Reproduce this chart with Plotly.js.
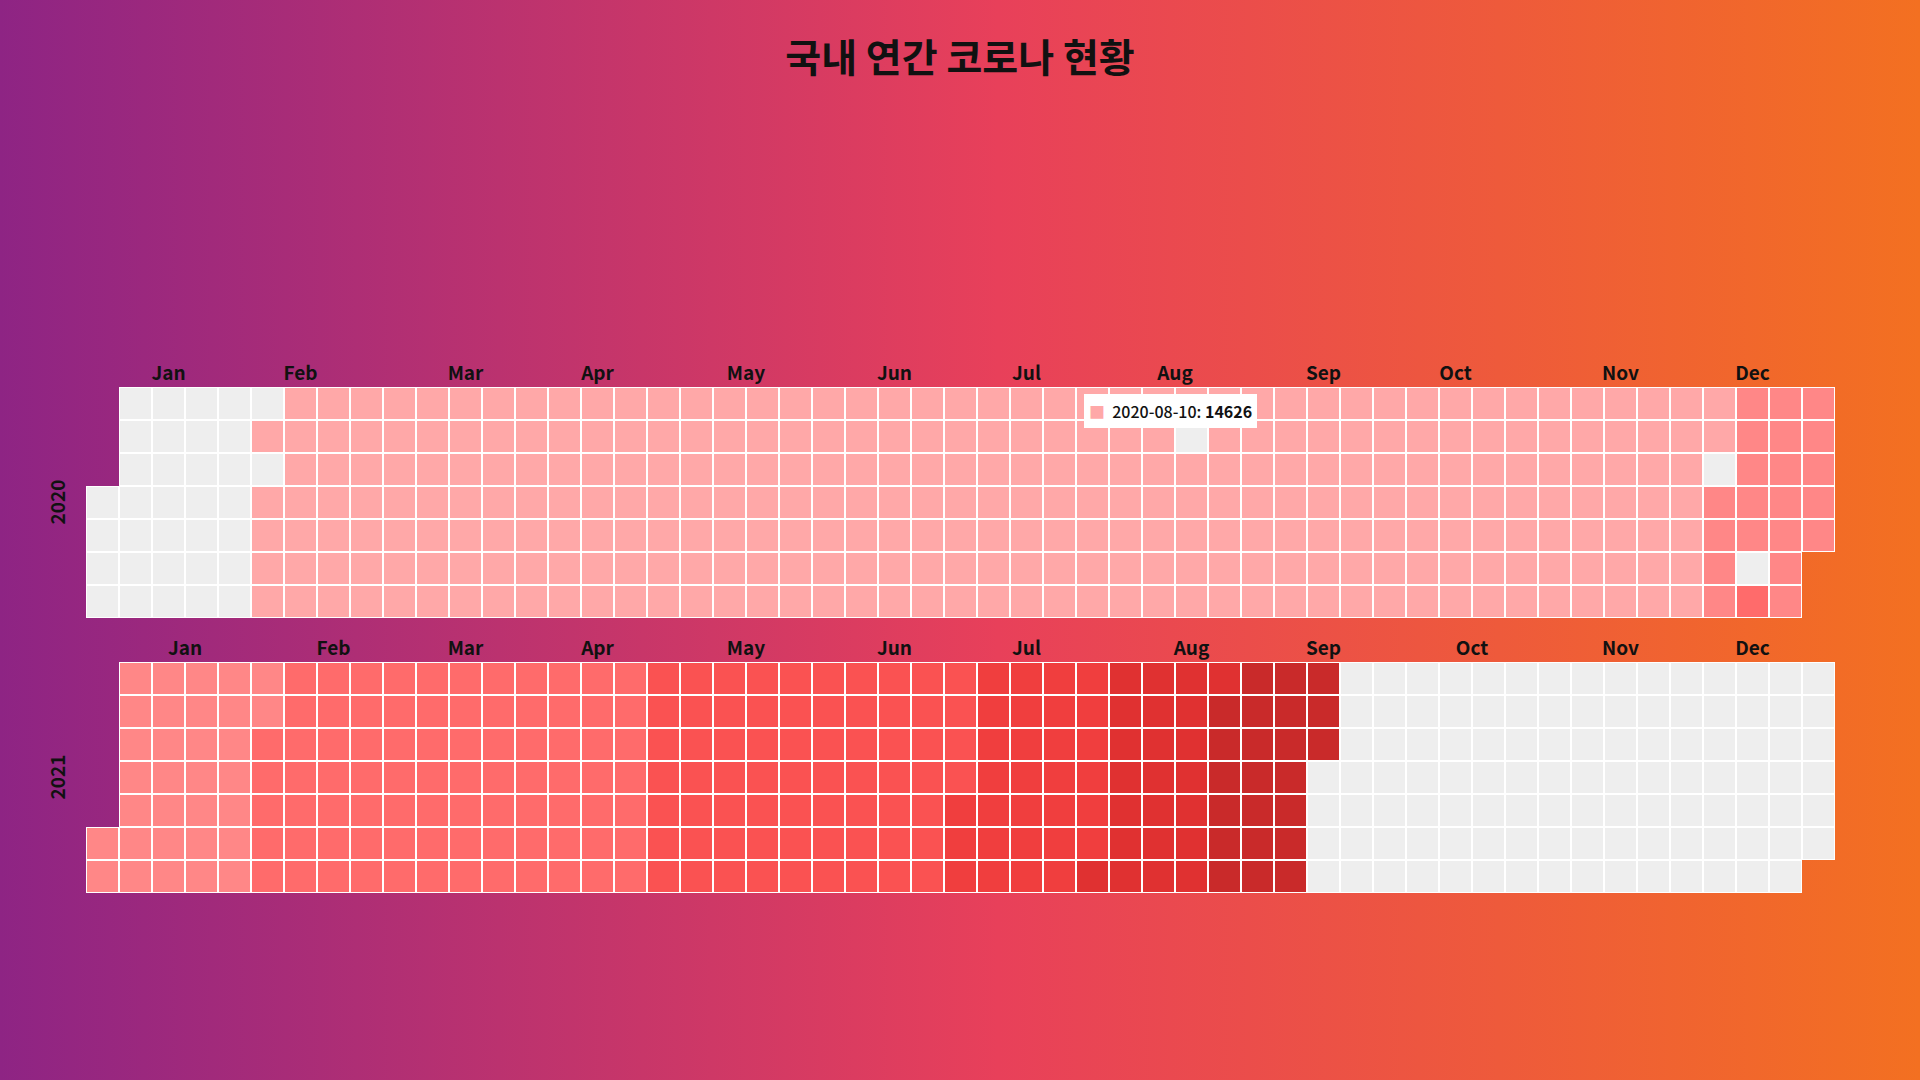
<!DOCTYPE html>
<html>
<head>
<meta charset="utf-8">
<script src="https://cdn.plot.ly/plotly-3.0.1.min.js"></script>
<style>
  html, body { margin: 0; padding: 0; }
  #chart {
    width: 1920px; height: 1080px;
    background: linear-gradient(to right, #8e2484 0%, #e8405a 52%, #f37021 100%);
  }
</style>
</head>
<body>
<div id="chart"></div>
<script>
// colour level of every day, one string per month (read off the calendar cells)
// 0 = no data (grey), 1..7 = visualMap pieces, light to dark red
var years = [2020, 2021];
var levelColors = ['#eeeeee', '#ffa8a8', '#ff8787', '#ff6b6b', '#fa5252', '#f03e3e', '#e03131', '#c92a2a'];

var days2020 = [
  '0000000000000000000000000000000',
  '00101111111111111111111111111',
  '1111111111111111111111111111111',
  '111111111111111111111111111111',
  '1111111111111111111111111111111',
  '111111111111111111111111111111',
  '1111111111111111111111111111111',
  '1111111111111111011111111111111',
  '111111111111111111111111111111',
  '1111111111111111111111111111111',
  '111111111111111111111111111111',
  '1111111022222222203222222222222'
];
var days2021 = [
  '2222222222222222222222222222222',
  '2333333333333333333333333333',
  '3333333333333333333333333333333',
  '333333333333333333333333444444',
  '4444444444444444444444444444444',
  '444444444444444444444444444444',
  '5555555555555555555555555555556',
  '6666666666666666666666777777777',
  '777777777777770000000000000000',
  '0000000000000000000000000000000',
  '000000000000000000000000000000',
  '0000000000000000000000000000000'
];

var monthNames = ['Jan', 'Feb', 'Mar', 'Apr', 'May', 'Jun', 'Jul', 'Aug', 'Sep', 'Oct', 'Nov', 'Dec'];
// week-column where each month label sits
var monthPos2020 = [2, 6, 11, 15, 19.5, 24, 28, 32.5, 37, 41, 46, 50];
var monthPos2021 = [2.5, 7, 11, 15, 19.5, 24, 28, 33, 37, 41.5, 46, 50];

// tooltip shown in the picture
var tipDate = '2020-08-10';
var tipValue = 14626;

// turn month strings into a 7 x 53 week grid (rows = Sun..Sat)
var build_grid = function (year, months) {
  var z = [], under = [];
  for (var r = 0; r < 7; r++) {
    z.push(new Array(53).fill(null));
    under.push(new Array(53).fill(null));
  }
  var first = new Date(Date.UTC(year, 0, 1)).getUTCDay();
  var k = 0;
  months.forEach(function (s, m) {
    var n = new Date(Date.UTC(year, m + 1, 0)).getUTCDate();
    if (s.length !== n) {
      throw new Error(year + '-' + (m + 1) + ': ' + s.length + ' days, expected ' + n);
    }
    for (var d = 0; d < n; d++) {
      var p = k + first;
      z[p % 7][Math.floor(p / 7)] = +s[d];
      under[p % 7][Math.floor(p / 7)] = 1;
      k++;
    }
  });
  return [z, under];
};

var weeks = [];
for (var i = 0; i < 53; i++) weeks.push(i);
var weekdays = [0, 1, 2, 3, 4, 5, 6];

var colorscale = [];
levelColors.forEach(function (c, i) {
  colorscale.push([i / levelColors.length, c]);
  colorscale.push([(i + 1) / levelColors.length, c]);
});

var data = [];
var grids = [build_grid(2020, days2020), build_grid(2021, days2021)];
grids.forEach(function (g, i) {
  var xa = i === 0 ? 'x' : 'x2';
  var ya = i === 0 ? 'y' : 'y2';
  // white underlay so the gaps between cells read as white borders
  data.push({
    type: 'heatmap', x: weeks, y: weekdays, z: g[1],
    colorscale: [[0, '#ffffff'], [1, '#ffffff']], showscale: false,
    xaxis: xa, yaxis: ya, hoverinfo: 'skip'
  });
  data.push({
    type: 'heatmap', x: weeks, y: weekdays, z: g[0],
    colorscale: colorscale, zmin: -0.5, zmax: levelColors.length - 0.5,
    showscale: false, xgap: 2, ygap: 2,
    xaxis: xa, yaxis: ya, hoverinfo: 'skip'
  });
});

var W = 1920, H = 1080;
var left = 86, right = 1835;
var tickFont = { family: '"Noto Sans CJK KR", "Noto Sans", sans-serif', size: 19, color: '#111', weight: 'bold' };

var x_axis = function (anchor, pos) {
  return {
    domain: [left / W, right / W], range: [-0.5, 52.5], anchor: anchor, side: 'top',
    showgrid: false, zeroline: false, showline: false, ticks: '',
    tickvals: pos, ticktext: monthNames, tickfont: tickFont,
    ticklabelstandoff: 2, automargin: false, fixedrange: true
  };
};
var y_axis = function (top, bottom) {
  return {
    domain: [1 - bottom / H, 1 - top / H], range: [6.5, -0.5],
    showgrid: false, zeroline: false, showline: false, showticklabels: false, ticks: '',
    automargin: false, fixedrange: true
  };
};

// level of the hovered day, for the tooltip marker colour
var tipMonth = +tipDate.slice(5, 7) - 1, tipDay = +tipDate.slice(8, 10) - 1;
var tipColor = levelColors[+days2020[tipMonth][tipDay]];

var layout = {
  width: W, height: H,
  margin: { l: 0, r: 0, t: 0, b: 0 },
  paper_bgcolor: 'rgba(0,0,0,0)', plot_bgcolor: 'rgba(0,0,0,0)',
  hovermode: false, showlegend: false,
  title: {
    text: '국내 연간 코로나 현황',
    font: { family: '"Noto Sans CJK KR", sans-serif', size: 39, color: '#111', weight: 'bold' },
    x: 0.5, xanchor: 'center', y: 1 - 58 / H, yanchor: 'middle', yref: 'paper'
  },
  xaxis: x_axis('y', monthPos2020),
  xaxis2: x_axis('y2', monthPos2021),
  yaxis: y_axis(387, 618),
  yaxis2: y_axis(662, 893),
  annotations: [
    { text: String(years[0]), xref: 'paper', x: 56 / W, yref: 'y domain', y: 0.5, textangle: -90,
      showarrow: false, font: tickFont, xanchor: 'center', yanchor: 'middle' },
    { text: String(years[1]), xref: 'paper', x: 56 / W, yref: 'y2 domain', y: 0.5, textangle: -90,
      showarrow: false, font: tickFont, xanchor: 'center', yanchor: 'middle' },
    { text: '<span style="color:' + tipColor + '">■</span>  ' + tipDate + ': <b>' + tipValue + '</b>',
      xref: 'paper', x: 1084 / W, xanchor: 'left', yref: 'paper', y: 1 - 411 / H, yanchor: 'middle',
      showarrow: false, bgcolor: '#ffffff', bordercolor: '#ffffff', borderpad: 4,
      font: { family: '"Noto Sans CJK KR", sans-serif', size: 16, color: '#111', weight: 500 } }
  ]
};

Plotly.newPlot('chart', data, layout, { displayModeBar: false, staticPlot: true });
</script>
</body>
</html>
